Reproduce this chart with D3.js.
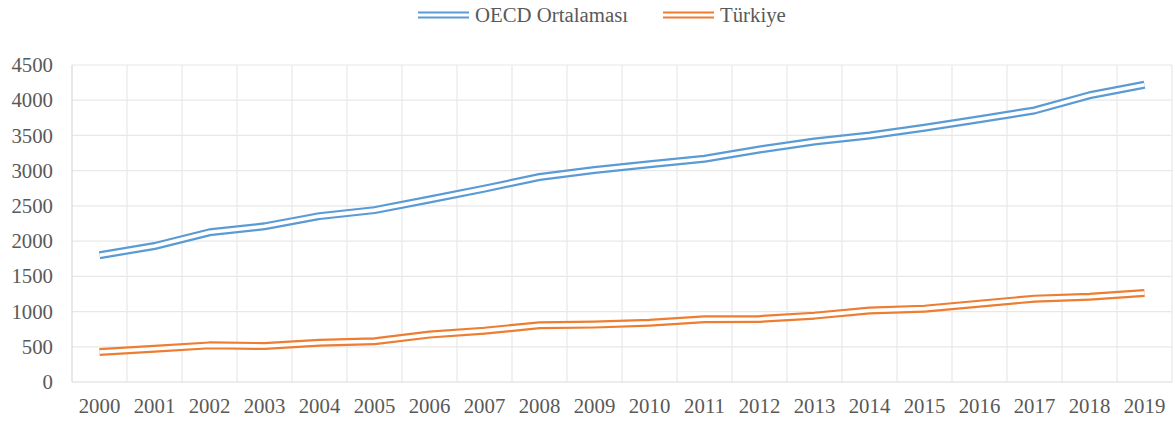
<!DOCTYPE html>
<html>
<head>
<meta charset="utf-8">
<script src="https://cdn.jsdelivr.net/npm/d3@7/dist/d3.min.js"></script>
<style>
  body { margin: 0; background: #fff; }
  text { font-family: "Liberation Serif", "Times New Roman", serif; fill: #595959; }
</style>
</head>
<body>
<div id="chart"></div>
<script>
// years on the x axis
let years = ["2000", "2001", "2002", "2003", "2004", "2005", "2006", "2007", "2008", "2009",
  "2010", "2011", "2012", "2013", "2014", "2015", "2016", "2017", "2018", "2019"]
// OECD average
let oecdVals = [1800, 1930, 2125, 2210, 2355, 2440, 2590, 2745, 2910, 3010,
  3090, 3170, 3300, 3415, 3500, 3610, 3730, 3855, 4070, 4220]
// Türkiye
let turVals = [426, 473, 520, 511, 557, 578, 673, 729, 805, 815,
  842, 890, 895, 942, 1015, 1041, 1112, 1183, 1211, 1264]
let yTicks = [0, 500, 1000, 1500, 2000, 2500, 3000, 3500, 4000, 4500]
let seriesNames = ["OECD Ortalaması", "Türkiye"]

let width = 1175, height = 422
// plot box (window.top is taken, so m* names)
let mLeft = 72, mRight = 1172, mTop = 65, mBottom = 382
let colors = ["#5B9BD5", "#ED7D31"]
let fontSize = "20.8px"

let svg = d3.select("#chart").append("svg")
  .attr("width", width)
  .attr("height", height)

let x = d3.scaleBand().domain(years).range([mLeft, mRight]).padding(0)
let y = d3.scaleLinear().domain([0, 4500]).range([mBottom, mTop])

// gridlines
let grid = svg.append("g")
grid.selectAll(".hg").data(yTicks.slice(1)).enter().append("line")
  .attr("x1", mLeft).attr("x2", mRight)
  .attr("y1", d => y(d)).attr("y2", d => y(d))
  .attr("stroke", "#E8E8E8").attr("stroke-width", 1.2)
// vertical lines sit on the band edges
grid.selectAll(".vg").data(years).enter().append("line")
  .attr("x1", d => x(d) + x.bandwidth())
  .attr("x2", d => x(d) + x.bandwidth())
  .attr("y1", mTop).attr("y2", mBottom)
  .attr("stroke", "#E8E8E8").attr("stroke-width", 1.2)

// axis lines (left + bottom)
svg.append("line").attr("x1", mLeft).attr("x2", mLeft).attr("y1", mTop).attr("y2", mBottom)
  .attr("stroke", "#D9D9D9").attr("stroke-width", 1.2)
svg.append("line").attr("x1", mLeft).attr("x2", mRight).attr("y1", mBottom).attr("y2", mBottom)
  .attr("stroke", "#D9D9D9").attr("stroke-width", 1.2)

// y axis labels
let yAxis = d3.axisLeft(y).tickValues(yTicks).tickFormat(d3.format("d")).tickSize(0).tickPadding(19)
svg.append("g").attr("transform", `translate(${mLeft},0)`).call(yAxis)
  .attr("font-family", null)
  .call(g => g.select(".domain").remove())
  .selectAll("text").style("font-size", fontSize).attr("fill", "#595959")

// x axis labels
let xAxis = d3.axisBottom(x).tickSize(0).tickPadding(16)
svg.append("g").attr("transform", `translate(0,${mBottom})`).call(xAxis)
  .attr("font-family", null)
  .call(g => g.select(".domain").remove())
  .selectAll("text").style("font-size", fontSize).attr("fill", "#595959")

// double lines: thick colour stroke, thin white stroke on top
let lineGen = d3.line()
  .x((d, i) => x(years[i]) + x.bandwidth() / 2)
  .y(d => y(d))

let allSeries = [oecdVals, turVals]
allSeries.forEach((vals, k) => {
  svg.append("path").datum(vals)
    .attr("d", lineGen)
    .attr("fill", "none")
    .attr("stroke", colors[k])
    .attr("stroke-width", 8)
    .attr("stroke-linejoin", "round")
  svg.append("path").datum(vals)
    .attr("d", lineGen)
    .attr("fill", "none")
    .attr("stroke", "#fff")
    .attr("stroke-width", 3.6)
    .attr("stroke-linejoin", "round")
})

// legend
let legendX = [418, 663]
let lg = svg.append("g")
seriesNames.forEach((name, k) => {
  lg.append("line").attr("x1", legendX[k]).attr("x2", legendX[k] + 51)
    .attr("y1", 15).attr("y2", 15)
    .attr("stroke", colors[k]).attr("stroke-width", 6.8)
  lg.append("line").attr("x1", legendX[k]).attr("x2", legendX[k] + 51)
    .attr("y1", 15).attr("y2", 15)
    .attr("stroke", "#fff").attr("stroke-width", 2.8)
  lg.append("text").attr("x", legendX[k] + 57).attr("y", 21.5)
    .style("font-size", fontSize)
    .text(name)
})
</script>
</body>
</html>
